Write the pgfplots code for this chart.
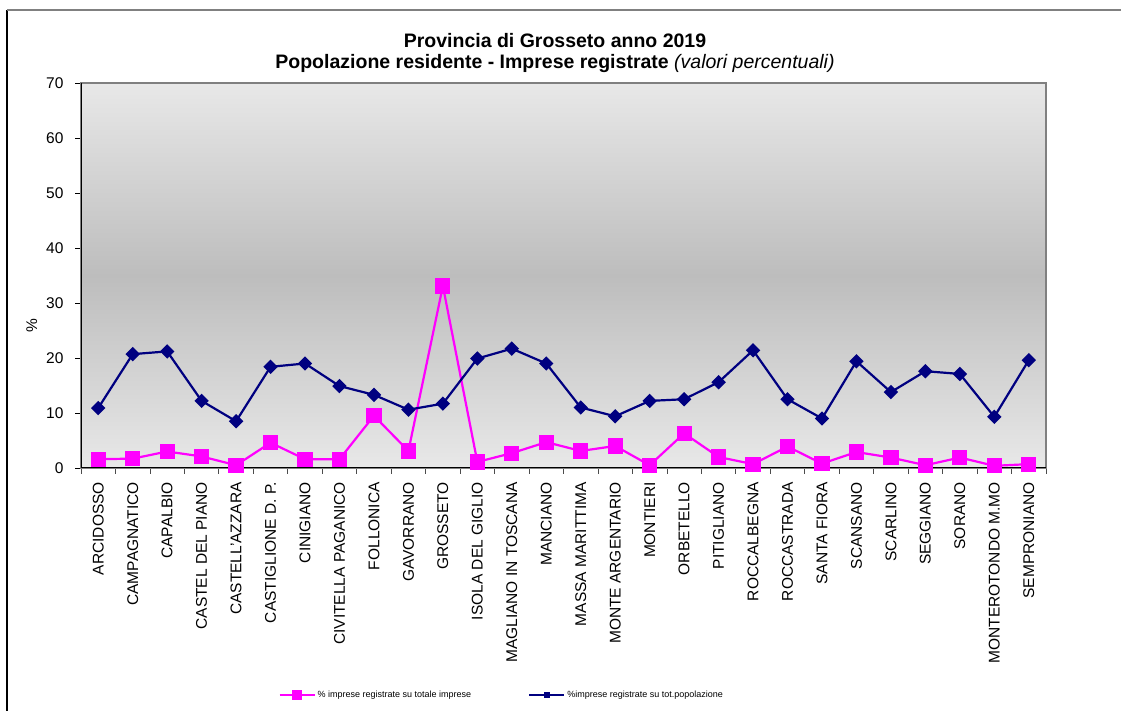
\documentclass[border=0pt]{standalone}
\usepackage{pgfplots}
\pgfplotsset{compat=1.18}
\usepackage{fontspec}
\setmainfont{Liberation Sans}
\definecolor{mag}{HTML}{FF00FF}
\definecolor{navyb}{HTML}{000080}
\definecolor{bgtop}{HTML}{E8E8E8}
\definecolor{bgmid}{HTML}{BDBDBD}
\definecolor{bgbot}{HTML}{E8E8E8}
\pgfplotstableread{
x imp pop
0 1.6 10.9
1 1.7 20.7
2 3.0 21.2
3 2.1 12.2
4 0.5 8.5
5 4.6 18.4
6 1.6 19.0
7 1.6 14.9
8 9.5 13.3
9 3.1 10.6
10 33.1 11.7
11 1.1 19.9
12 2.7 21.7
13 4.7 19.0
14 3.1 11.0
15 4.0 9.4
16 0.5 12.2
17 6.3 12.5
18 2.0 15.6
19 0.7 21.4
20 3.9 12.5
21 0.8 9.0
22 2.9 19.4
23 1.9 13.8
24 0.5 17.6
25 1.9 17.1
26 0.4 9.3
27 0.7 19.6
}\datatab
\begin{document}
\begin{tikzpicture}[x=1pt,y=1pt]
\useasboundingbox (0,0) rectangle (1121,711);
\fill[white] (0,0) rectangle (1121,711);
\draw[black, line width=1.2pt] (7,0) -- (7,701);
\draw[gray, line width=2pt] (7,701) -- (1121,701);
\node[align=center, font=\bfseries\fontsize{19.5}{21}\selectfont] at (555,658)
  {Provincia di Grosseto anno 2019\\Popolazione residente - Imprese registrate \mdseries\itshape(valori percentuali)};
\begin{axis}[
  at={(81pt,243pt)}, anchor=south west, scale only axis,
  width=965pt, height=385pt,
  xmin=-0.5, xmax=27.5, ymin=0, ymax=70,
  ytick={0,10,...,70},
  xtick={0,...,27},
  xticklabels={ARCIDOSSO,CAMPAGNATICO,CAPALBIO,CASTEL DEL PIANO,CASTELL'AZZARA,CASTIGLIONE D. P.,CINIGIANO,CIVITELLA PAGANICO,FOLLONICA,GAVORRANO,GROSSETO,ISOLA DEL GIGLIO,MAGLIANO IN TOSCANA,MANCIANO,MASSA MARITTIMA,MONTE ARGENTARIO,MONTIERI,ORBETELLO,PITIGLIANO,ROCCALBEGNA,ROCCASTRADA,SANTA FIORA,SCANSANO,SCARLINO,SEGGIANO,SORANO,MONTEROTONDO M.MO,SEMPRONIANO},
  minor xtick={-0.5,0.5,...,27.5},
  major x tick style={draw=none},
  minor x tick style={black!70, line width=0.8pt},
  minor tick length=6pt,
  y tick style={black, line width=0.8pt},
  major tick length=6pt,
  tick align=outside, tick pos=left,
  x tick label style={rotate=90, anchor=east, inner xsep=8pt, font=\fontsize{15.5}{18}\selectfont},
  y tick label style={font=\fontsize{15.5}{18}\selectfont, xshift=-8pt},
  /pgf/number format/assume math mode=true,
  ylabel={\%}, ylabel style={font=\fontsize{15.5}{18}\selectfont, at={(axis description cs:-0.051,0.37)}, anchor=center},
  axis background/.style={top color=bgtop, bottom color=bgbot, middle color=bgmid},
  axis line style={draw=gray, line width=2pt},
  legend style={at={(axis description cs:0.436,-0.59)}, anchor=center, draw=none, fill=none,
    font=\fontsize{9}{11}\selectfont, legend columns=2,
    /tikz/every even column/.append style={column sep=55pt}},
  legend image code/.code={\draw[mark repeat=2, mark phase=2, #1, mark options={scale=0.55}] plot coordinates {(0pt,0pt) (17.5pt,0pt) (35pt,0pt)};},
]
\addplot[mag, line width=2.2pt, mark=square*, mark size=6.5pt, mark options={solid, fill=mag, draw=mag}] table[x=x, y=imp] {\datatab};
\addlegendentry{\% imprese registrate su totale imprese}
\addplot[navyb, line width=2.2pt, mark=square*, mark size=4pt, mark options={solid, rotate=45, fill=navyb, draw=navyb}] table[x=x, y=pop] {\datatab};
\addlegendentry{\%imprese registrate su tot.popolazione}
\draw[black, line width=1.5pt] (rel axis cs:0,1) -- (rel axis cs:0,0) -- (rel axis cs:1,0);
\end{axis}
\end{tikzpicture}
\end{document}
